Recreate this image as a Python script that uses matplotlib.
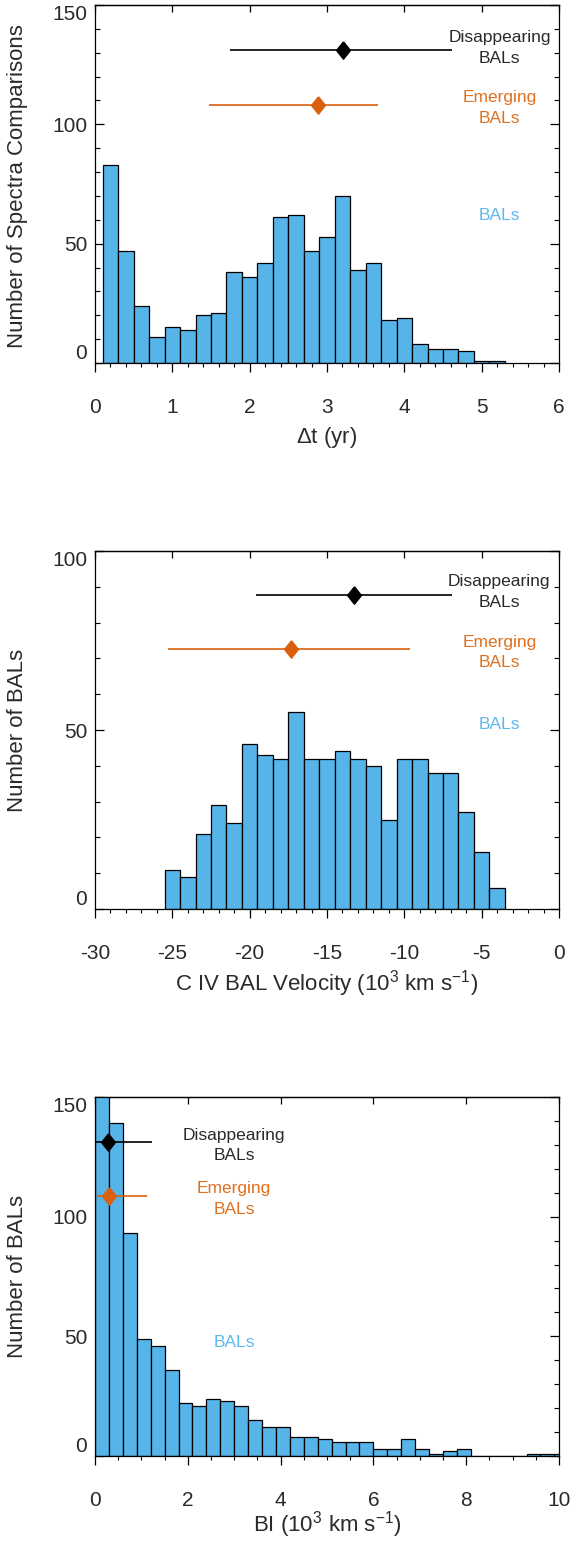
import numpy as np
import matplotlib
matplotlib.use('Agg')
import matplotlib.pyplot as plt
from matplotlib.ticker import MultipleLocator

plt.rcParams['font.family'] = ['Liberation Sans', 'DejaVu Sans']
plt.rcParams['mathtext.fontset'] = 'custom'
plt.rcParams['mathtext.rm'] = 'Liberation Sans'
plt.rcParams['mathtext.it'] = 'Liberation Sans:italic'
plt.rcParams['axes.unicode_minus'] = False

BAR_COLOR = '#56B4E9'
ORANGE = '#D9600F'
TEXT_COLOR = '#2a2a2a'

# Panel 1: time between spectra (yr), bins of 0.2 yr starting at 0.1
dt_start, dt_width = 0.1, 0.2
dt_counts = [83, 47, 24, 11, 15, 14, 20, 21, 38, 36, 42, 61, 62, 47, 53,
             70, 39, 42, 18, 19, 8, 6, 6, 5, 1, 1]
dt_disap = (3.21, 1.74, 4.62)   # mean, low, high
dt_emerg = (2.89, 1.47, 3.66)
dt_disap_y, dt_emerg_y = 131, 108

# Panel 2: C IV BAL velocity (10^3 km/s), bins of 1 starting at -25.5
v_start, v_width = -25.5, 1.0
v_counts = [11, 9, 21, 29, 24, 46, 43, 42, 55, 42, 42, 44, 42, 40, 25,
            42, 42, 38, 38, 27, 16, 6]
v_disap = (-13.23, -19.61, -6.9)
v_emerg = (-17.31, -25.26, -9.63)
v_disap_y, v_emerg_y = 87.6, 72.5

# Panel 3: BI (10^3 km/s), bins of 0.3 starting at 0
bi_start, bi_width = 0.0, 0.3
bi_counts = [160, 139, 93, 49, 46, 36, 22, 21, 24, 23, 21, 15, 12, 12, 8,
             8, 7, 6, 6, 6, 3, 3, 7, 3, 1, 2, 3, 0, 0, 0, 0, 1, 1, 1]
bi_disap = (0.27, 0.0, 1.23)
bi_emerg = (0.30, 0.05, 1.11)
bi_disap_y, bi_emerg_y = 131.2, 108.6

W, H = 572, 1541
fig = plt.figure(figsize=(W / 100, H / 100), dpi=100)


def px_axes(left, top, right, bottom):
    return fig.add_axes([left / W, 1 - bottom / H, (right - left) / W, (bottom - top) / H])


diamond = [(0, 1), (0.8, 0), (0, -1), (-0.8, 0), (0, 1)]


def draw_panel(ax, start, width, counts, disap, emerg, ydis, yem,
               xlim, ylim, xmaj, xmin, ymaj, ymin, txt_x, txt_y, bal_y):
    lefts = [start + i * width for i in range(len(counts))]
    ax.bar(lefts, counts, width=width, align='edge', color=BAR_COLOR,
           edgecolor='black', linewidth=0.9, zorder=2)
    for (m, lo, hi), yy, col in [(disap, ydis, 'black'), (emerg, yem, ORANGE)]:
        ax.errorbar([m], [yy], xerr=[[m - lo], [hi - m]], fmt='none',
                    ecolor=col, elinewidth=1.2, capsize=0, zorder=3)
        ax.plot([m], [yy], marker=diamond, markersize=12.5, color=col,
                linestyle='none', zorder=4)
    ax.text(txt_x, txt_y[0], 'Disappearing\nBALs', color=TEXT_COLOR, fontsize=12.5,
            ha='center', va='center', linespacing=1.45)
    ax.text(txt_x, txt_y[1], 'Emerging\nBALs', color='#E0701F', fontsize=12.5,
            ha='center', va='center', linespacing=1.45)
    ax.text(txt_x, bal_y, 'BALs', color='#5DB9EC', fontsize=12.5,
            ha='center', va='center')

    ax.set_xlim(*xlim)
    ax.set_ylim(*ylim)
    ax.xaxis.set_major_locator(MultipleLocator(xmaj))
    ax.xaxis.set_minor_locator(MultipleLocator(xmin))
    ax.set_yticks(np.arange(ylim[0], ylim[1] + 0.1, ymaj))
    ax.yaxis.set_minor_locator(MultipleLocator(ymin))
    ax.tick_params(axis='x', which='both', direction='out', bottom=True, top=False,
                   labelsize=15, labelcolor=TEXT_COLOR, pad=18.5)
    ax.tick_params(axis='x', which='major', length=6.5, width=0.9)
    ax.tick_params(axis='x', which='minor', length=3.0, width=0.8)
    ax.tick_params(axis='y', which='both', direction='in', left=True, right=True,
                   labelsize=15, labelcolor=TEXT_COLOR, pad=5.5)
    ax.tick_params(axis='y', which='major', length=6.5, width=0.9)
    ax.tick_params(axis='y', which='minor', length=3.5, width=0.8)
    top = ax.secondary_xaxis('top')
    top.xaxis.set_major_locator(MultipleLocator(xmaj))
    top.tick_params(direction='in', length=5, width=0.9, labeltop=False)
    for sp in list(ax.spines.values()) + list(top.spines.values()):
        sp.set_linewidth(0.9)
    labels = ax.get_yticklabels()
    labels[0].set_va('bottom')
    labels[-1].set_va('top')


ax1 = px_axes(95, 5, 559, 363)
draw_panel(ax1, dt_start, dt_width, dt_counts, dt_disap, dt_emerg, dt_disap_y, dt_emerg_y,
           (0, 6), (0, 150), 1, 0.2, 50, 10, 5.23, (132, 106.8), 62)

ax2 = px_axes(95, 551, 559, 909)
draw_panel(ax2, v_start, v_width, v_counts, v_disap, v_emerg, v_disap_y, v_emerg_y,
           (-30, 0), (0, 100), 5, 1, 50, 10, -3.86, (88.6, 71.6), 51.5)

ax3 = px_axes(95, 1097, 559, 1456)
draw_panel(ax3, bi_start, bi_width, bi_counts, bi_disap, bi_emerg, bi_disap_y, bi_emerg_y,
           (0, 10), (0, 150), 2, 0.5, 50, 10, 3.0, (129.7, 107.4), 47.4)

# axis titles
def ftext(x, y, s, **kw):
    fig.text(x / W, 1 - y / H, s, fontsize=16, color=TEXT_COLOR, **kw)

ftext(327, 443, r'$\Delta$t (yr)', ha='center', va='baseline')
ftext(327, 990, r'C IV BAL Velocity (10$^{3}$ km s$^{-1}$)', ha='center', va='baseline')
ftext(327, 1531, r'BI (10$^{3}$ km s$^{-1}$)', ha='center', va='baseline')
ftext(18, 186, 'Number of Spectra Comparisons', ha='center', va='center', rotation=90)
ftext(18, 730, 'Number of BALs', ha='center', va='center', rotation=90)
ftext(18, 1276, 'Number of BALs', ha='center', va='center', rotation=90)

fig.savefig('out.png', dpi=100)
